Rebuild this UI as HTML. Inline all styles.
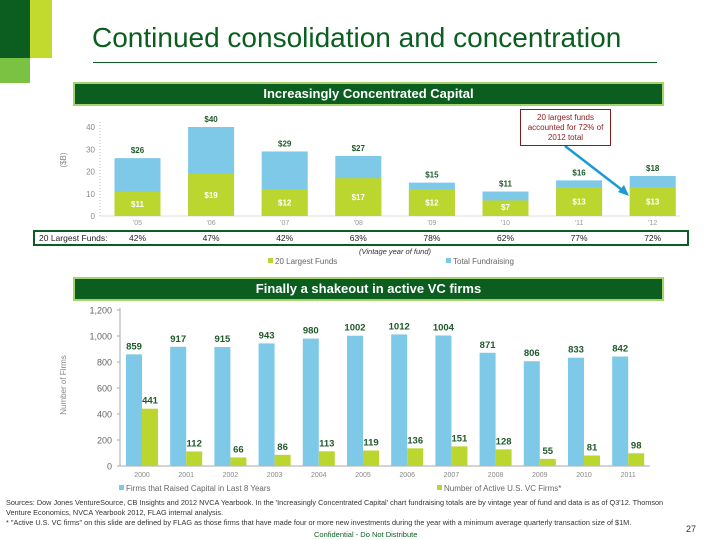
<!DOCTYPE html>
<html><head><meta charset="utf-8">
<style>
body{margin:0;width:720px;height:540px;background:#fff;overflow:hidden;position:relative;font-family:"Liberation Sans",sans-serif;}
.abs{position:absolute;}
.banner{position:absolute;background:#0b5e20;border:2px solid #a6d46a;color:#fff;font-weight:bold;font-size:13px;text-align:center;box-sizing:border-box;}
</style></head><body>
<div class="abs" style="left:0;top:0;width:30px;height:58px;background:#0b5e20"></div>
<div class="abs" style="left:30px;top:0;width:22px;height:58px;background:#c2d92e"></div>
<div class="abs" style="left:0;top:58px;width:30px;height:25px;background:#7cc242"></div>
<div class="abs" style="left:92px;top:22px;font-size:28px;color:#0b5e20;white-space:nowrap">Continued consolidation and concentration</div>
<div class="abs" style="left:93px;top:62px;width:564px;height:1px;background:#0b5e20"></div>
<div class="banner" style="left:73px;top:82px;width:591px;height:24px;line-height:20px">Increasingly Concentrated Capital</div>
<div class="banner" style="left:73px;top:277px;width:591px;height:24px;line-height:20px">Finally a shakeout in active VC firms</div>

<svg class="abs" style="left:0;top:0" width="720" height="540">
<g id="c1"></g>
<g id="c2"></g>
</svg>

<div class="abs" style="left:520px;top:109px;width:91px;height:37px;border:1px solid #8b1a1a;box-sizing:border-box;font-size:8px;color:#8b1a1a;text-align:center;line-height:10px;padding-top:3px">20 largest funds accounted for 72% of 2012 total</div>

<div class="abs" style="left:6px;top:498px;width:680px;font-size:7.3px;color:#333;line-height:10px">Sources: Dow Jones VentureSource, CB Insights and 2012 NVCA Yearbook. In the 'Increasingly Concentrated Capital' chart fundraising totals are by vintage year of fund and data is as of Q3'12. Thomson Venture Economics, NVCA Yearbook 2012, FLAG internal analysis.<br>* "Active U.S. VC firms" on this slide are defined by FLAG as those firms that have made four or more new investments during the year with a minimum average quarterly transaction size of $1M.</div>
<div class="abs" style="left:314px;top:530px;font-size:7.5px;color:#0b5e20">Confidential - Do Not Distribute</div>
<div class="abs" style="left:686px;top:524px;font-size:9px;color:#333">27</div>

<script>
const years1=["'05","'06","'07","'08","'09","'10","'11","'12"];
const totals=[26,40,29,27,15,11,16,18];
const largest=[11,19,12,17,12,7,13,13];
const pcts=["42%","47%","42%","63%","78%","62%","77%","72%"];
const ticks1=[0,10,20,30,40];
const years2=["2000","2001","2002","2003","2004","2005","2006","2007","2008","2009","2010","2011"];
const raised=[859,917,915,943,980,1002,1012,1004,871,806,833,842];
const active=[441,112,66,86,113,119,136,151,128,55,81,98];
const ticks2=[0,200,400,600,800,1000,1200];

const NS="http://www.w3.org/2000/svg";
function mk(p,t,a,txt){const e=document.createElementNS(NS,t);for(const k in a)e.setAttribute(k,a[k]);if(txt!==undefined)e.textContent=txt;p.appendChild(e);return e;}
const BLUE="#7ec8e8",LIME="#bcd630",DG="#1e5a2a";

// chart 1
const g1=document.getElementById('c1');
const y1=v=>216-v*2.225, x1=i=>137.5+i*73.6;
mk(g1,'line',{x1:100,y1:122,x2:100,y2:216,stroke:'#bbb','stroke-dasharray':'1,2'});
mk(g1,'line',{x1:100,y1:216,x2:680,y2:216,stroke:'#ddd'});
ticks1.forEach(t=>{const e=mk(g1,'text',{x:95,y:y1(t)+3,'font-size':8,fill:'#888','text-anchor':'end'},t);

});
const yt=mk(g1,'text',{x:66,y:160,'font-size':8,fill:'#888','text-anchor':'middle',transform:'rotate(-90 66 160)'},'($B)');


years1.forEach((yr,i)=>{
 const cx=x1(i);
 const b=mk(g1,'rect',{x:cx-23,y:y1(totals[i]),width:46,height:216-y1(totals[i]),fill:BLUE});
 
 
 const g=mk(g1,'rect',{x:cx-23,y:y1(largest[i]),width:46,height:216-y1(largest[i]),fill:LIME});
 
 
 const t=mk(g1,'text',{x:cx,y:y1(totals[i])-5,'font-size':8,'font-weight':'bold',fill:DG,'text-anchor':'middle'},'$'+totals[i]);
 
 
 const l=mk(g1,'text',{x:cx,y:Math.min(y1(largest[i]/2)+3,210),'font-size':8,'font-weight':'bold',fill:'#fff','text-anchor':'middle'},'$'+largest[i]);
 
 
 const xl=mk(g1,'text',{x:cx,y:225,'font-size':7,fill:'#999','text-anchor':'middle'},yr);
 
 
 const p=mk(g1,'text',{x:cx,y:241,'font-size':8.5,fill:'#222','text-anchor':'middle'},pcts[i]);
 
 
});
const pr=mk(g1,'rect',{x:34,y:231,width:654,height:14,fill:'none',stroke:'#0b5e20','stroke-width':2});


const pl=mk(g1,'text',{x:39,y:241,'font-size':8.5,fill:'#222'},'20 Largest Funds:');


const vx=mk(g1,'text',{x:395,y:254,'font-size':7.5,'font-style':'italic',fill:'#333','text-anchor':'middle'},'(Vintage year of fund)');


mk(g1,'rect',{x:268,y:258,width:5,height:5,fill:LIME});
const lg1=mk(g1,'text',{x:275,y:264,'font-size':8,fill:'#666'},'20 Largest Funds');


mk(g1,'rect',{x:446,y:258,width:5,height:5,fill:BLUE});
const lg2=mk(g1,'text',{x:453,y:264,'font-size':8,fill:'#666'},'Total Fundraising');


const ar=mk(g1,'line',{x1:565,y1:146,x2:626,y2:193,stroke:'#1a9ad6','stroke-width':2.5});


mk(g1,'polygon',{points:'629,196 618,192 624,185',fill:'#1a9ad6'});

// chart 2
const g2=document.getElementById('c2');
const y2=v=>466-v*0.13, x2=i=>126+i*44.2;
mk(g2,'line',{x1:120,y1:308,x2:120,y2:466,stroke:'#aaa'});
mk(g2,'line',{x1:120,y1:466,x2:650,y2:466,stroke:'#aaa'});
ticks2.forEach(t=>{
 mk(g2,'line',{x1:117,y1:y2(t),x2:120,y2:y2(t),stroke:'#aaa'});
 const e=mk(g2,'text',{x:112,y:y2(t)+3.5,'font-size':9,fill:'#666','text-anchor':'end'},t.toLocaleString('en-US'));
 
 });
const yt2=mk(g2,'text',{x:66,y:385,'font-size':8,fill:'#888','text-anchor':'middle',transform:'rotate(-90 66 385)'},'Number of Firms');


years2.forEach((yr,i)=>{
 const x=x2(i);
 const b=mk(g2,'rect',{x:x,y:y2(raised[i]),width:16,height:466-y2(raised[i]),fill:BLUE});
 
 
 const g=mk(g2,'rect',{x:x+16,y:y2(active[i]),width:16,height:466-y2(active[i]),fill:LIME});
 
 
 const t=mk(g2,'text',{x:x+8,y:y2(raised[i])-5,'font-size':9.5,'font-weight':'bold',fill:DG,'text-anchor':'middle'},raised[i]);
 
 
 const a=mk(g2,'text',{x:x+24,y:y2(active[i])-5,'font-size':9.5,'font-weight':'bold',fill:DG,'text-anchor':'middle'},active[i]);
 
 
 const xl=mk(g2,'text',{x:x+16,y:477,'font-size':7,fill:'#888','text-anchor':'middle'},yr);
 
 
});
mk(g2,'rect',{x:119,y:485,width:5,height:5,fill:BLUE});
const l3=mk(g2,'text',{x:126,y:491,'font-size':8,fill:'#666'},'Firms that Raised Capital in Last 8 Years');


mk(g2,'rect',{x:437,y:485,width:5,height:5,fill:LIME});
const l4=mk(g2,'text',{x:444,y:491,'font-size':8,fill:'#666'},'Number of Active U.S. VC Firms*');


</script>
</body></html>
